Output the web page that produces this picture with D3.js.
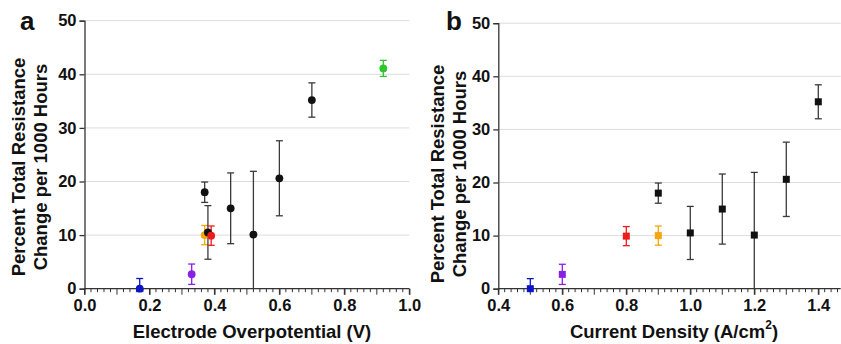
<!DOCTYPE html>
<html><head><meta charset="utf-8">
<script src="https://cdn.jsdelivr.net/npm/d3@7"></script>
<style>body{margin:0;background:#fff}svg{display:block}text{font-family:"Liberation Sans",Arial,sans-serif;font-weight:bold;fill:#111}</style>
</head><body>
<svg id="c" width="841" height="344"></svg>
<script>
// Data
const colors = ["#0a14c8","#8a1fe6","#f5a60a","#111111","#111111","#ee1b1b","#111111","#111111","#111111","#111111","#2ec52e"];
const overpotential = [0.17,0.33,0.37,0.37,0.38,0.39,0.45,0.52,0.60,0.70,0.92];
const currentDensity = [0.5,0.6,0.9,0.9,1.0,0.8,1.1,1.2,1.3,1.4,null];
const resistChange = [0.0,2.7,10.0,18.0,10.5,9.9,15.0,10.1,20.6,35.2,41.1];
const resistErr = [1.9,1.9,1.8,1.9,5.0,1.8,6.6,11.8,7.0,3.2,1.5];
const yTicks = [0,10,20,30,40,50];
const xTicksA = [0.0,0.2,0.4,0.6,0.8,1.0];
const xTicksB = [0.4,0.6,0.8,1.0,1.2,1.4];

const svg = d3.select("#c");

function panel(opts){
  const g = svg.append("g");
  const x = d3.scaleLinear().domain(opts.xDomain).range(opts.xRange);
  const y = d3.scaleLinear().domain([0,50]).range(opts.yRange);
  const x0 = opts.xRange[0], x1 = opts.xRange[1];
  // gridlines
  g.selectAll("line.grid").data(yTicks.filter(d=>d>0)).join("line")
    .attr("x1",x0).attr("x2",x1).attr("y1",d=>y(d)).attr("y2",d=>y(d))
    .attr("stroke","#dcdcdc").attr("stroke-width",1);
  // y axis
  const ya = g.append("g").attr("transform",`translate(${x0},0)`)
    .call(d3.axisLeft(y).tickValues(yTicks).tickSize(5).tickPadding(3).tickFormat(d3.format("d")));
  ya.select(".domain").attr("stroke","#333").attr("stroke-width",1.3);
  ya.selectAll(".tick line").attr("stroke","#333").attr("stroke-width",1.3);
  ya.selectAll(".tick text").style("font-size","16.5px").style("font-weight","bold").attr("fill","#111");
  // x axis minor ticks
  const minor = d3.range(Math.round(opts.xDomain[0]*50), Math.floor(opts.xDomain[1]*50+1e-6)+1).map(d=>d/50);
  const xa0 = y(0);
  g.append("g").selectAll("line").data(minor).join("line")
    .attr("x1",d=>x(d)).attr("x2",d=>x(d)).attr("y1",xa0).attr("y2",d=>Math.abs(d*10-Math.round(d*10))<1e-6?xa0+6:xa0+3.5)
    .attr("stroke","#333").attr("stroke-width",1);
  const xa = g.append("g").attr("transform",`translate(0,${xa0})`)
    .call(d3.axisBottom(x).tickValues(opts.xTicks).tickSize(6).tickPadding(5).tickFormat(d3.format(".1f")));
  xa.select(".domain").attr("stroke","#333").attr("stroke-width",1.3).attr("d",`M${x0},0H${x1}`);
  xa.selectAll(".tick line").attr("stroke","#333").attr("stroke-width",1.3);
  xa.selectAll(".tick text").style("font-size","16.5px").style("font-weight","bold").attr("fill","#111");
  // data
  const idx = d3.range(resistChange.length).filter(i=>opts.xs[i]!=null);
  const pts = g.append("g");
  idx.forEach(i=>{
    const cx = x(opts.xs[i]);
    const c = colors[i]==="#111111" ? "#3a3a3a" : colors[i];
    const lo = Math.max(0,resistChange[i]-resistErr[i]), hi = resistChange[i]+resistErr[i];
    pts.append("line").attr("x1",cx).attr("x2",cx).attr("y1",y(lo)).attr("y2",y(hi)).attr("stroke",c).attr("stroke-width",1.3);
    pts.append("line").attr("x1",cx-3.5).attr("x2",cx+3.5).attr("y1",y(hi)).attr("y2",y(hi)).attr("stroke",c).attr("stroke-width",1.3);
    if (resistChange[i]-resistErr[i] >= 0)
      pts.append("line").attr("x1",cx-3.5).attr("x2",cx+3.5).attr("y1",y(lo)).attr("y2",y(lo)).attr("stroke",c).attr("stroke-width",1.3);
  });
  idx.forEach(i=>{
    const cx = x(opts.xs[i]), cy = y(resistChange[i]);
    if (opts.shape==="circle")
      pts.append("circle").attr("cx",cx).attr("cy",cy).attr("r",3.9).attr("fill",colors[i]);
    else
      pts.append("rect").attr("x",cx-3.5).attr("y",cy-3.5).attr("width",7).attr("height",7).attr("fill",colors[i]);
  });
  // y title
  const yt = g.append("text").attr("transform",`translate(${opts.ytX},${opts.ytY}) rotate(-90)`)
    .attr("text-anchor","middle").style("font-size","18.5px");
  yt.append("tspan").attr("x",0).attr("dy",0).text("Percent Total Resistance");
  yt.append("tspan").attr("x",0).attr("dy",21.5).text("Change per 1000 Hours");
  // x title
  const xt = g.append("text").attr("x",opts.xtX).attr("y",338).attr("text-anchor","middle").style("font-size","18.5px");
  opts.xTitle(xt);
  // panel letter
  g.append("text").attr("x",opts.letterX).attr("y",30).style("font-size","26px").text(opts.letter);
}

panel({xDomain:[0,1], xRange:[84.5,409.3], yRange:[288.7,20.7], xTicks:xTicksA, xs:overpotential, shape:"circle",
  ytX:25, ytY:167, xtX:252, letter:"a", letterX:20,
  xTitle: t=>t.text("Electrode Overpotential (V)")});
panel({xDomain:[0.4,1.47], xRange:[498.3,840.7], yRange:[288.7,23.2], xTicks:xTicksB, xs:currentDensity, shape:"square",
  ytX:444, ytY:174, xtX:674, letter:"b", letterX:446,
  xTitle: t=>{ t.append("tspan").text("Current Density (A/cm");
    t.append("tspan").attr("dy",-9).style("font-size","12px").text("2");
    t.append("tspan").attr("dy",9).text(")"); }});
</script>
</body></html>
